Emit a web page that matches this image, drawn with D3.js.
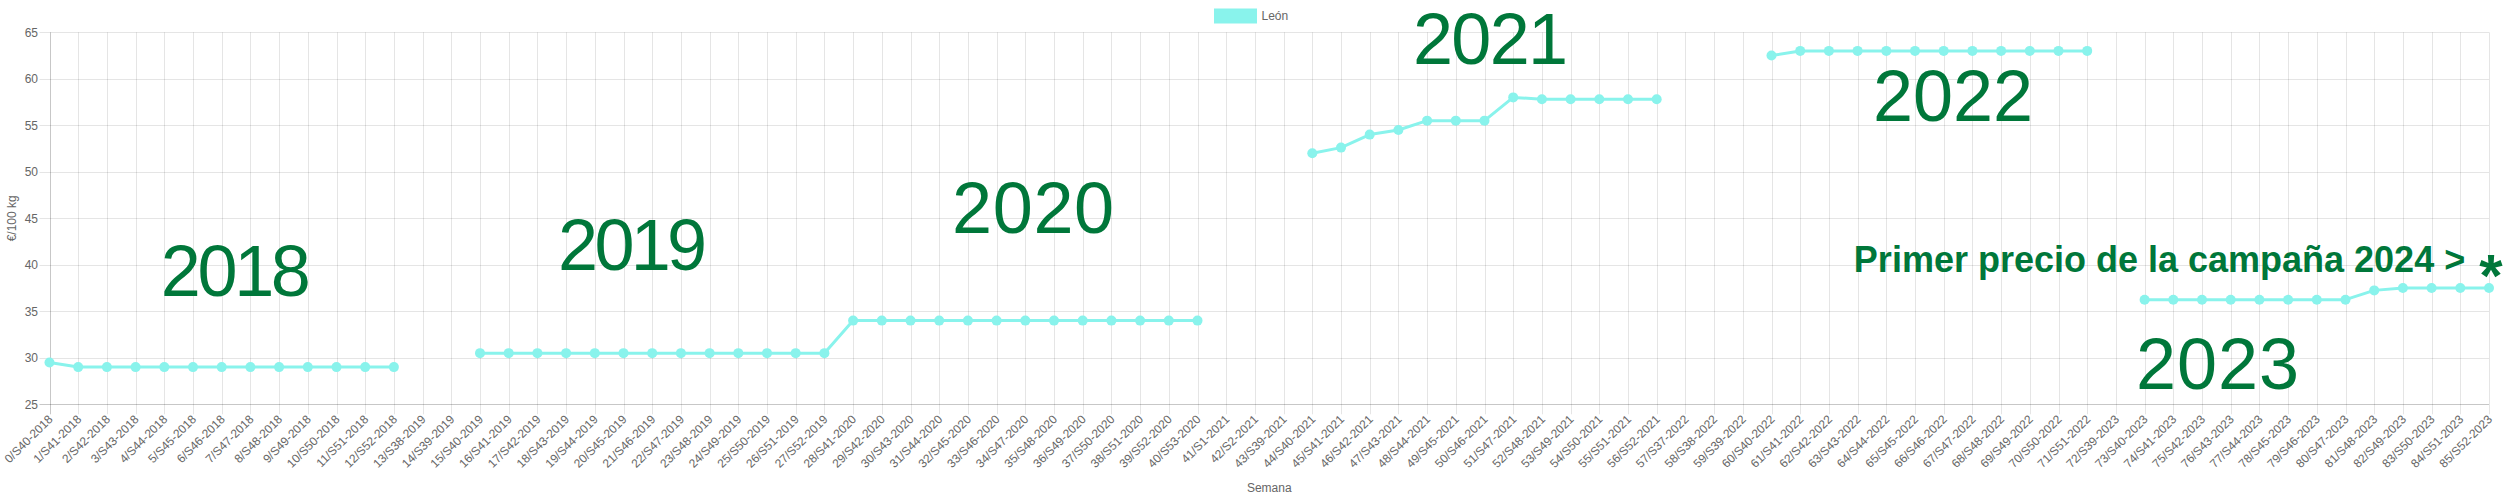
<!DOCTYPE html>
<html>
<head>
<meta charset="utf-8">
<script src="https://cdn.jsdelivr.net/npm/d3@7"></script>
<style>
  html, body { margin: 0; padding: 0; background: #fff; }
  svg { display: block; }
  text { font-family: "Liberation Sans", Arial, Helvetica, sans-serif; }
</style>
</head>
<body>
<svg id="chart" width="2503" height="500"></svg>
<script>
// ---------- DATA ----------
const categories = [
  "0/S40-2018","1/S41-2018","2/S42-2018","3/S43-2018","4/S44-2018","5/S45-2018","6/S46-2018","7/S47-2018","8/S48-2018","9/S49-2018","10/S50-2018","11/S51-2018","12/S52-2018",
  "13/S38-2019","14/S39-2019","15/S40-2019","16/S41-2019","17/S42-2019","18/S43-2019","19/S44-2019","20/S45-2019","21/S46-2019","22/S47-2019","23/S48-2019","24/S49-2019","25/S50-2019","26/S51-2019","27/S52-2019",
  "28/S41-2020","29/S42-2020","30/S43-2020","31/S44-2020","32/S45-2020","33/S46-2020","34/S47-2020","35/S48-2020","36/S49-2020","37/S50-2020","38/S51-2020","39/S52-2020","40/S53-2020",
  "41/S1-2021","42/S2-2021","43/S39-2021","44/S40-2021","45/S41-2021","46/S42-2021","47/S43-2021","48/S44-2021","49/S45-2021","50/S46-2021","51/S47-2021","52/S48-2021","53/S49-2021","54/S50-2021","55/S51-2021","56/S52-2021",
  "57/S37-2022","58/S38-2022","59/S39-2022","60/S40-2022","61/S41-2022","62/S42-2022","63/S43-2022","64/S44-2022","65/S45-2022","66/S46-2022","67/S47-2022","68/S48-2022","69/S49-2022","70/S50-2022","71/S51-2022",
  "72/S39-2023","73/S40-2023","74/S41-2023","75/S42-2023","76/S43-2023","77/S44-2023","78/S45-2023","79/S46-2023","80/S47-2023","81/S48-2023","82/S49-2023","83/S50-2023","84/S51-2023","85/S52-2023"
];

const seriesName = "León";
const leonValues = [
  29.5, 29, 29, 29, 29, 29, 29, 29, 29, 29, 29, 29, 29,
  null, null, 30.5, 30.5, 30.5, 30.5, 30.5, 30.5, 30.5, 30.5, 30.5, 30.5, 30.5, 30.5, 30.5,
  34, 34, 34, 34, 34, 34, 34, 34, 34, 34, 34, 34, 34,
  null, null, null, 52, 52.6, 54, 54.5, 55.5, 55.5, 55.5, 58, 57.8, 57.8, 57.8, 57.8, 57.8,
  null, null, null, 62.5, 63, 63, 63, 63, 63, 63, 63, 63, 63, 63, 63,
  null, 36.25, 36.25, 36.25, 36.25, 36.25, 36.25, 36.25, 36.25, 37.25, 37.5, 37.5, 37.5, 37.5
];

const yTicks = [25, 30, 35, 40, 45, 50, 55, 60, 65];
const yTitle = "€/100 kg";
const xTitle = "Semana";

// Annotation texts and their anchor (category index, value)
const yearLabels = ["2018", "2019", "2020", "2021", "2022", "2023"];
const yearAnchorIdx = [3.88, 17.72, 31.45, 47.51, 63.54, 72.7];
const yearAnchorVal = [36.65, 39.44, 43.42, 61.6, 55.46, 26.65];
const noteText = "Primer precio de la campaña 2024 > ";
const noteMark = "*";
const noteAnchorIdx = 62.87;
const noteAnchorVal = 39.23;

// ---------- LAYOUT ----------
const W = 2503, H = 500;
const plotLeft = 49.5, plotRight = 2489, plotTop = 32.3, plotBottom = 404.3;
const lineColor = "#89f3ec";
const green = "#00773a";
const gridColor = "rgba(0,0,0,0.1)";
const axisColor = "rgba(0,0,0,0.22)";
const tickColor = "#666";
const yearTextLength = [150, 149, 162, 155, 160, 163];

const svg = d3.select("#chart");

const x = d3.scalePoint().domain(d3.range(categories.length)).range([plotLeft, plotRight]);
const xi = d3.scaleLinear().domain([0, categories.length - 1]).range([plotLeft, plotRight]);
const y = d3.scaleLinear().domain([25, 65]).range([plotBottom, plotTop]);

// Horizontal grid
const g = svg.append("g");
g.selectAll("line.hgrid").data(yTicks).enter().append("line")
  .attr("x1", plotLeft - 10).attr("x2", plotRight)
  .attr("y1", d => Math.round(y(d)) + 0.5).attr("y2", d => Math.round(y(d)) + 0.5)
  .attr("stroke", d => d === 25 ? axisColor : gridColor).attr("stroke-width", 1);

// Vertical grid
g.selectAll("line.vgrid").data(d3.range(categories.length)).enter().append("line")
  .attr("x1", d => Math.round(x(d)) + 0.5).attr("x2", d => Math.round(x(d)) + 0.5)
  .attr("y1", plotTop).attr("y2", plotBottom + 10)
  .attr("stroke", d => d === 0 ? axisColor : gridColor).attr("stroke-width", 1);

// Y tick labels
svg.append("g").selectAll("text").data(yTicks).enter().append("text")
  .attr("x", 38).attr("y", d => y(d)).attr("dy", "0.35em")
  .attr("text-anchor", "end").attr("font-size", 12).attr("fill", tickColor)
  .text(d => d);

// X tick labels
svg.append("g").selectAll("text").data(categories).enter().append("text")
  .attr("transform", (d, i) => `translate(${x(i) + 1},417) rotate(-45)`)
  .attr("dy", "0.35em")
  .attr("text-anchor", "end").attr("font-size", 12).attr("fill", tickColor)
  .text(d => d);

// Axis titles
svg.append("text")
  .attr("transform", `translate(16,${(plotTop + plotBottom) / 2}) rotate(-90)`)
  .attr("text-anchor", "middle").attr("font-size", 12).attr("fill", tickColor)
  .text(yTitle);
svg.append("text")
  .attr("x", (plotLeft + plotRight) / 2).attr("y", 492)
  .attr("text-anchor", "middle").attr("font-size", 12).attr("fill", tickColor)
  .text(xTitle);

// Legend
const legendTextW = 26;
const legendW = 40 + 6 + legendTextW;
const lx = W / 2 - legendW / 2;
svg.append("rect").attr("x", lx).attr("y", 10).attr("width", 40).attr("height", 12)
  .attr("fill", lineColor).attr("stroke", lineColor).attr("stroke-width", 3);
svg.append("text").attr("x", lx + 46).attr("y", 16).attr("dy", "0.35em")
  .attr("font-size", 12).attr("fill", tickColor).text(seriesName);

// Line
const pts = leonValues.map((v, i) => ({ i, v }));
const line = d3.line().defined(d => d.v != null).x(d => x(d.i)).y(d => y(d.v));
svg.append("path").datum(pts)
  .attr("d", line).attr("fill", "none")
  .attr("stroke", lineColor).attr("stroke-width", 3).attr("stroke-linejoin", "round");

svg.append("g").selectAll("circle").data(pts.filter(d => d.v != null)).enter().append("circle")
  .attr("cx", d => x(d.i)).attr("cy", d => y(d.v)).attr("r", 5)
  .attr("fill", lineColor);

// Year annotations
svg.append("g").selectAll("text").data(yearLabels).enter().append("text")
  .attr("x", (d, k) => xi(yearAnchorIdx[k])).attr("y", (d, k) => y(yearAnchorVal[k]))
  .attr("font-size", 72).attr("fill", green)
  .attr("textLength", (d, k) => yearTextLength[k]).attr("lengthAdjust", "spacing")
  .text(d => d);

// Note annotation
const note = svg.append("text")
  .attr("x", xi(noteAnchorIdx)).attr("y", y(noteAnchorVal))
  .attr("font-size", 36).attr("font-weight", "bold").attr("fill", green);
note.append("tspan").text(noteText);
note.append("tspan").attr("font-size", 60).attr("dx", 4).attr("dy", 24).text(noteMark);
</script>
</body>
</html>
